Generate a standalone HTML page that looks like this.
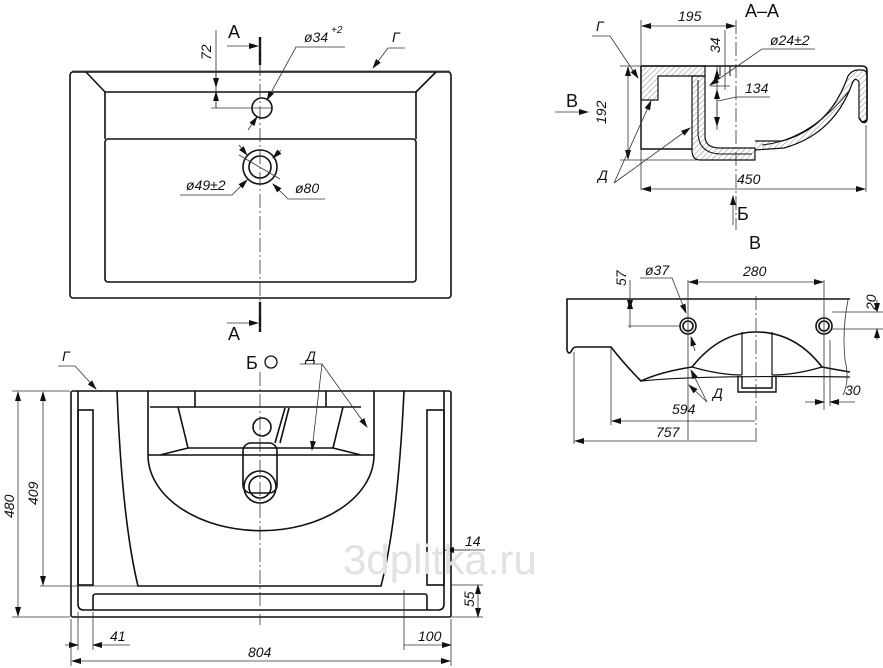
<!DOCTYPE html>
<html><head><meta charset="utf-8"><style>
html,body{margin:0;padding:0;background:#fff;}
svg{display:block}
text{font-family:"Liberation Sans",sans-serif;font-style:italic;fill:#111;font-size:14px}
.up{font-style:normal;font-size:18px}
</style></head><body>
<svg width="883" height="668" viewBox="0 0 883 668" xmlns="http://www.w3.org/2000/svg">
<defs>
<marker id="a" markerWidth="10" markerHeight="6" refX="9" refY="3" orient="auto-start-reverse" markerUnits="userSpaceOnUse"><path d="M0,0 L10,3 L0,6z" fill="#111"/></marker>
<pattern id="h" width="4" height="4" patternUnits="userSpaceOnUse" patternTransform="rotate(45)"><line x1="0" y1="0" x2="0" y2="4" stroke="#555" stroke-width="0.7"/></pattern>
</defs>
<g fill="none" stroke="#111" stroke-width="1.6">
<rect x="70" y="72" width="381" height="226" rx="3"/>
<line x1="86" y1="72" x2="105" y2="92"/><line x1="436" y1="72" x2="416" y2="92"/>
<path d="M105,139 V92 H416 V139"/>
<rect x="105" y="139" width="311" height="143" rx="3"/>
<circle cx="262" cy="108" r="10"/>
<circle cx="260" cy="167" r="17"/><circle cx="260" cy="167" r="11"/>
<line x1="260" y1="37" x2="260" y2="65" stroke-width="2.4"/>
<line x1="260" y1="302" x2="260" y2="332" stroke-width="2.4"/>
<rect x="71" y="391" width="380" height="226" rx="2"/>
<path d="M78,391 V604 Q78,610 84,610 H438 Q444,610 444,604 V391"/>
<rect x="78" y="410" width="15" height="175"/>
<rect x="427" y="410" width="17" height="175"/>
<path d="M93,610 V597 Q93,594 96,594 H425 Q427,594 427,597 V610"/>
<path d="M117,391 Q122,520 138,586 H381 Q398,520 404,391"/>
<path d="M148,391 V455 A112,75 0 0 0 374,455 V391"/>
<path d="M150,407 H361 M195,391 V407 M326,391 V407"/>
<path d="M178,407 L188,448 H333 L343,407 M160,455 L188,448 M361,455 L333,448 M148,455 H374"/>
<rect x="243" y="443" width="34" height="50" rx="8"/>
<circle cx="260" cy="487" r="16"/><circle cx="260" cy="487" r="11"/>
<circle cx="262" cy="427" r="9"/>
<path d="M275,443 L285,408 M280,443 L289,408"/>
<path d="M641,66 H862 Q867,66 867,71 V118 Q867,124 862,122 L859,118"/>
<path d="M641,66 V149 H692"/>
<path d="M641,66 H705 V76 H658 V100 H641 Z" fill="url(#h)" stroke-width="1.2"/>
<path d="M692,76 H705 V136 Q705,148 720,148 H755 V160 H700 Q692,160 692,150 Z" fill="url(#h)" stroke-width="1.2"/>
<path d="M698,80 V132 Q698,153 720,154 H752" stroke-width="1"/>
<path d="M755,141 H782 Q830,128 848,76 Q852,70 858,70 H862 Q867,70 867,76 V120 L862,122 L859,118 V82 Q855,76 852,84 Q834,134 784,148 L755,150" fill="url(#h)" stroke-width="1.2"/>
<path d="M762,145 Q810,140 850,90" stroke-width="1"/>
<path d="M720,66 V76 M730,66 V76" stroke-width="1"/>
<path d="M850,299 H567 V350 Q569,356 572,350 Q573,347 577,347 H611 Q625,365 641,381 Q660,372 692,367 Q720,332 756,332 Q795,332 822,367 Q838,370 850,372"/>
<path d="M641,381 Q700,375 850,377" stroke-width="1.2"/>
<path d="M692,367 Q720,375 742,375 M822,367 Q795,375 772,375 M742,332 V375 M772,332 V375" stroke-width="1.2"/>
<path d="M738,376 V392 H776 V376 M742,376 V388 H772 V376" stroke-width="1.4"/>
<circle cx="688" cy="326" r="8"/><circle cx="688" cy="326" r="5"/>
<circle cx="824" cy="326" r="8"/><circle cx="824" cy="326" r="5"/>
</g>
<g fill="none" stroke="#333" stroke-width="0.8">
<line x1="260" y1="40" x2="260" y2="330" stroke-dasharray="14,3,2,3"/>
<line x1="260" y1="372" x2="260" y2="625" stroke-dasharray="14,3,2,3"/>
<line x1="72" y1="71" x2="450" y2="71"/>
<line x1="216" y1="30" x2="216" y2="108"/><line x1="211" y1="108" x2="272" y2="108"/>
<line x1="216" y1="70" x2="216" y2="87" marker-end="url(#a)"/>
<line x1="216" y1="108" x2="216" y2="92" marker-end="url(#a)"/>
<line x1="227" y1="46" x2="258" y2="46" marker-end="url(#a)"/>
<line x1="227" y1="323" x2="258" y2="323" marker-end="url(#a)"/>
<path d="M345,47 H296 L267,100" marker-end="url(#a)"/><line x1="248" y1="130" x2="257" y2="117" marker-end="url(#a)"/>
<path d="M405,48 H388 L373,68" marker-end="url(#a)"/>
<line x1="239" y1="155" x2="280" y2="179"/><line x1="239" y1="145" x2="247" y2="155" marker-end="url(#a)"/>
<line x1="281" y1="150" x2="273" y2="158" marker-end="url(#a)"/>
<path d="M180,195 H232 L247,180" marker-end="url(#a)"/>
<path d="M325,199 H288 L273,184" marker-end="url(#a)"/>
<path d="M58,366 H75 L96,389" marker-end="url(#a)"/>
<line x1="12" y1="391" x2="70" y2="391"/><line x1="12" y1="617" x2="70" y2="617"/>
<line x1="18" y1="392" x2="18" y2="616" marker-start="url(#a)" marker-end="url(#a)"/>
<line x1="40" y1="586" x2="138" y2="586"/>
<line x1="43" y1="392" x2="43" y2="585" marker-start="url(#a)" marker-end="url(#a)"/>
<line x1="71" y1="619" x2="71" y2="666"/><line x1="451" y1="619" x2="451" y2="666"/>
<line x1="78" y1="612" x2="78" y2="650"/><line x1="93" y1="612" x2="93" y2="650"/>
<line x1="404" y1="590" x2="404" y2="650"/>
<line x1="72" y1="661" x2="450" y2="661" marker-start="url(#a)" marker-end="url(#a)"/>
<line x1="65" y1="645" x2="78" y2="645" marker-end="url(#a)"/><line x1="130" y1="645" x2="93" y2="645" marker-end="url(#a)"/>
<line x1="404" y1="645" x2="430" y2="645"/><line x1="430" y1="645" x2="451" y2="645" marker-end="url(#a)"/>
<line x1="451" y1="550" x2="485" y2="550"/><line x1="470" y1="550" x2="445" y2="550" marker-end="url(#a)"/>
<line x1="451" y1="585" x2="483" y2="585"/><line x1="451" y1="617" x2="483" y2="617"/>
<line x1="478" y1="585" x2="478" y2="617" marker-start="url(#a)" marker-end="url(#a)"/>
<path d="M300,364 H322 L312,450" marker-end="url(#a)"/>
<path d="M322,364 L367,427" marker-end="url(#a)"/>
<line x1="641" y1="20" x2="641" y2="190"/><line x1="736" y1="20" x2="736" y2="230" stroke-dasharray="14,3,2,3"/>
<line x1="642" y1="26" x2="735" y2="26" marker-start="url(#a)" marker-end="url(#a)"/>
<line x1="725" y1="30" x2="725" y2="90"/>
<line x1="717" y1="66" x2="717" y2="130"/>
<line x1="717" y1="70" x2="717" y2="80" marker-start="url(#a)"/>
<line x1="717" y1="90" x2="717" y2="126" marker-start="url(#a)" marker-end="url(#a)"/>
<line x1="710" y1="86" x2="730" y2="86"/>
<path d="M815,49 H762 L710,85" marker-end="url(#a)"/>
<path d="M770,97 H736 L718,101"/>
<line x1="620" y1="66" x2="641" y2="66"/><line x1="620" y1="160" x2="697" y2="160"/>
<line x1="628" y1="67" x2="628" y2="159" marker-start="url(#a)" marker-end="url(#a)"/>
<line x1="866" y1="125" x2="866" y2="192"/>
<line x1="642" y1="189" x2="865" y2="189" marker-start="url(#a)" marker-end="url(#a)"/>
<path d="M592,36 H610 L638,78" marker-end="url(#a)"/>
<path d="M614,183 L651,101" marker-end="url(#a)"/><path d="M614,183 L690,128" marker-end="url(#a)"/>
<line x1="555" y1="112" x2="588" y2="112" marker-end="url(#a)"/>
<line x1="733" y1="225" x2="733" y2="196" marker-end="url(#a)"/>
<line x1="630" y1="280" x2="630" y2="328"/>
<line x1="630" y1="300" x2="630" y2="309" marker-end="url(#a)" marker-start="url(#a)"/>
<line x1="628" y1="326" x2="680" y2="326"/>
<line x1="688" y1="280" x2="688" y2="440"/><line x1="824" y1="280" x2="824" y2="410"/>
<line x1="689" y1="282" x2="823" y2="282" marker-start="url(#a)" marker-end="url(#a)"/>
<path d="M640,278 H672 L686,313" marker-end="url(#a)"/><line x1="695" y1="351" x2="691" y2="337" marker-end="url(#a)"/>
<line x1="756" y1="296" x2="756" y2="445" stroke-dasharray="14,3,2,3"/>
<line x1="832" y1="312" x2="883" y2="312"/><line x1="832" y1="329" x2="883" y2="329"/>
<line x1="877" y1="300" x2="877" y2="312" marker-end="url(#a)"/><line x1="877" y1="340" x2="877" y2="329" marker-end="url(#a)"/>
<line x1="830" y1="340" x2="830" y2="406"/>
<line x1="805" y1="402" x2="824" y2="402" marker-end="url(#a)"/><line x1="855" y1="402" x2="830" y2="402" marker-end="url(#a)"/>
<line x1="611" y1="348" x2="611" y2="425"/><line x1="574" y1="352" x2="574" y2="444"/>
<line x1="755" y1="421" x2="612" y2="421" marker-end="url(#a)"/>
<line x1="755" y1="441" x2="575" y2="441" marker-end="url(#a)"/>
<path d="M707,402 L691,370" marker-end="url(#a)"/><path d="M707,402 L689,385" marker-end="url(#a)"/>
<path d="M848,300 Q842,330 845,360 Q850,380 843,395"/>
</g>
<text class="up" x="228" y="38">A</text>
<text class="up" x="228" y="340">A</text>
<text x="211" y="52" transform="rotate(-90 211 52)" dx="-8">72</text>
<text x="304" y="42">ø34</text><text x="331" y="33" style="font-size:10px">+2</text>
<text x="392" y="42">Г</text>
<text x="186" y="190">ø49±2</text>
<text x="295" y="193">ø80</text>
<text class="up" x="246" y="369">Б</text>
<circle cx="271" cy="362" r="6" fill="none" stroke="#111" stroke-width="1.3"/>
<text x="306" y="361">Д</text>
<text x="62" y="361">Г</text>
<text x="14" y="518" transform="rotate(-90 14 518)">480</text>
<text x="38" y="505" transform="rotate(-90 38 505)">409</text>
<text x="110" y="641">41</text>
<text x="418" y="641">100</text>
<text x="248" y="657">804</text>
<text x="465" y="546">14</text>
<text x="474" y="607" transform="rotate(-90 474 607)">55</text>
<text x="343" y="574" style="font-style:normal;font-size:42px;fill:#e2e2e2">3dplitka.ru</text>
<text x="678" y="21">195</text>
<text class="up" x="745" y="17">A–A</text>
<text x="720" y="53" transform="rotate(-90 720 53)">34</text>
<text x="770" y="45">ø24±2</text>
<text x="745" y="93">134</text>
<text x="596" y="31">Г</text>
<text class="up" x="566" y="107">B</text>
<text x="606" y="124" transform="rotate(-90 606 124)">192</text>
<text x="598" y="180">Д</text>
<text x="737" y="184">450</text>
<text class="up" x="737" y="220">Б</text>
<text class="up" x="749" y="249">B</text>
<text x="626" y="286" transform="rotate(-90 626 286)">57</text>
<text x="645" y="275">ø37</text>
<text x="743" y="276">280</text>
<text x="876" y="310" transform="rotate(-90 876 310)">20</text>
<text x="845" y="395">30</text>
<text x="713" y="398">Д</text>
<text x="672" y="414">594</text>
<text x="656" y="437">757</text>
</svg>
</body></html>
